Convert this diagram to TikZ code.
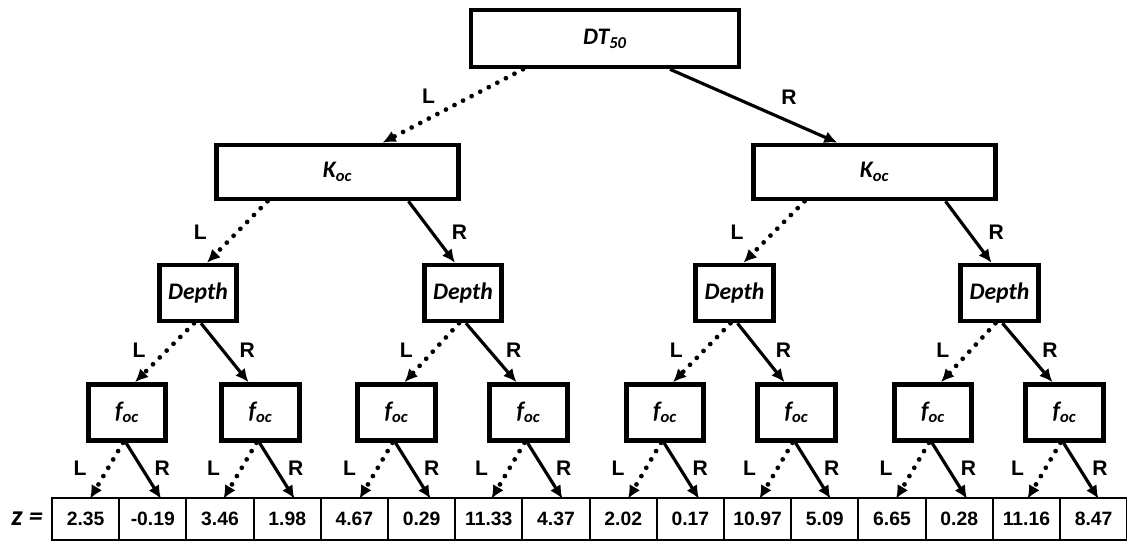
\documentclass[tikz,border=0pt]{standalone}
\usepackage{fontspec}
\setmainfont{Liberation Sans}
\newfontfamily\boxfont{Carlito}
\usepackage{tikz}
\usetikzlibrary{positioning}
\usetikzlibrary{calc}
\usetikzlibrary{arrows.meta}
\tikzset{box/.style={draw, line width=2.6pt, inner sep=0pt, font=\boxfont\bfseries\itshape\fontsize{13.5}{15}\selectfont}}
\tikzset{smallbox/.style={box, minimum width=1.55cm, minimum height=1.12cm}}
\tikzset{cell/.style={draw, line width=1.2pt, minimum width=1.344cm, minimum height=0.84cm, inner sep=0pt, outer sep=0pt, font=\bfseries\fontsize{11}{12}\selectfont}}
\tikzset{lbl/.style={inner sep=0pt, font=\bfseries\fontsize{12}{13}\selectfont}}
\tikzset{rarr/.style={line width=1.8pt, -{Latex[length=7.5pt,width=7pt]}}}
\tikzset{larr/.style={line width=2.7pt, dash pattern=on 0pt off 5.5pt, line cap=round, -{Latex[length=7.5pt,width=7pt]}}}

\begin{document}
\begin{tikzpicture}[x=0.02cm, y=-0.02cm]
\useasboundingbox (0,0) rectangle (1127,541);

\node[box, minimum width=5.36cm, minimum height=1.14cm] (dt) at (605,38.5) {DT\textsubscript{50}};
\node[box, minimum width=4.84cm, minimum height=1.08cm] (koc1) at (337.5,172) {K\textsubscript{oc}};
\node[box, minimum width=4.84cm, minimum height=1.08cm] (koc2) at (874.5,172) {K\textsubscript{oc}};

\node[smallbox] (d1) at (198,293) {Depth};
\node[smallbox] (d2) at (463,293) {Depth};
\node[smallbox] (d3) at (734.5,293) {Depth};
\node[smallbox] (d4) at (999.5,293) {Depth};

\node[smallbox] (f1) at (127,412.5) {f\textsubscript{oc}};
\node[smallbox] (f2) at (260.5,412.5) {f\textsubscript{oc}};
\node[smallbox] (f3) at (396.5,412.5) {f\textsubscript{oc}};
\node[smallbox] (f4) at (528.5,412.5) {f\textsubscript{oc}};
\node[smallbox] (f5) at (665,412.5) {f\textsubscript{oc}};
\node[smallbox] (f6) at (796.5,412.5) {f\textsubscript{oc}};
\node[smallbox] (f7) at (933,412.5) {f\textsubscript{oc}};
\node[smallbox] (f8) at (1064.5,412.5) {f\textsubscript{oc}};

% leaf values
\foreach \v [count=\i] in {2.35,-0.19,3.46,1.98,4.67,0.29,11.33,4.37,2.02,0.17,10.97,5.09,6.65,0.28,11.16,8.47}
  \node[cell] (c\i) at ({52+67.2*(\i-0.5)},519) {\v};
\node[inner sep=0pt, left=5pt of c1, font=\boxfont\bfseries\itshape\fontsize{16}{18}\selectfont] (zlbl) {z =};

\draw[larr] ($(dt.south)+(-82,0)$) -- node[lbl, left=8.8pt, yshift=5.4pt] {L} ($(koc1.north)+(45,0)$);
\draw[rarr] ($(dt.south)+(65,0)$) -- node[lbl, right=14.8pt, yshift=5pt] {R} ($(koc2.north)+(-37,0)$);

\draw[larr] ($(koc1.south)+(-70,0)$) -- node[lbl, left=16pt] {L} ($(d1.north)+(9,0)$);
\draw[rarr] ($(koc1.south)+(71,0)$) -- node[lbl, right=10.5pt] {R} ($(d2.north)+(-8,0)$);
\draw[larr] ($(koc2.south)+(-70,0)$) -- node[lbl, left=16pt] {L} ($(d3.north)+(9,0)$);
\draw[rarr] ($(koc2.south)+(71,0)$) -- node[lbl, right=10.5pt] {R} ($(d4.north)+(-8,0)$);

\draw[larr] ($(d1.south)+(-4,0)$) -- node[lbl, left=9.5pt, yshift=1.5pt] {L} ($(f1.north)+(8,0)$);
\draw[rarr] ($(d1.south)+(3,0)$) -- node[lbl, right=7.5pt, yshift=1.5pt] {R} ($(f2.north)+(-12,0)$);
\draw[larr] ($(d2.south)+(-4,0)$) -- node[lbl, left=9.5pt, yshift=1.5pt] {L} ($(f3.north)+(8,0)$);
\draw[rarr] ($(d2.south)+(3,0)$) -- node[lbl, right=7.5pt, yshift=1.5pt] {R} ($(f4.north)+(-12,0)$);
\draw[larr] ($(d3.south)+(-4,0)$) -- node[lbl, left=9.5pt, yshift=1.5pt] {L} ($(f5.north)+(8,0)$);
\draw[rarr] ($(d3.south)+(3,0)$) -- node[lbl, right=7.5pt, yshift=1.5pt] {R} ($(f6.north)+(-12,0)$);
\draw[larr] ($(d4.south)+(-4,0)$) -- node[lbl, left=9.5pt, yshift=1.5pt] {L} ($(f7.north)+(8,0)$);
\draw[rarr] ($(d4.south)+(3,0)$) -- node[lbl, right=7.5pt, yshift=1.5pt] {R} ($(f8.north)+(-12,0)$);

\foreach \k in {1,...,8}{
  \draw[larr] ($(f\k.south)+(-4,0)$) -- node[lbl, left=10pt, yshift=1.5pt] {L} ($(f\k.south)+(-37,56)$);
  \draw[rarr] ($(f\k.south)+(-1,0)$) -- node[lbl, right=5.5pt, yshift=1.5pt] {R} ($(f\k.south)+(34,56)$);
}
\end{tikzpicture}
\end{document}
